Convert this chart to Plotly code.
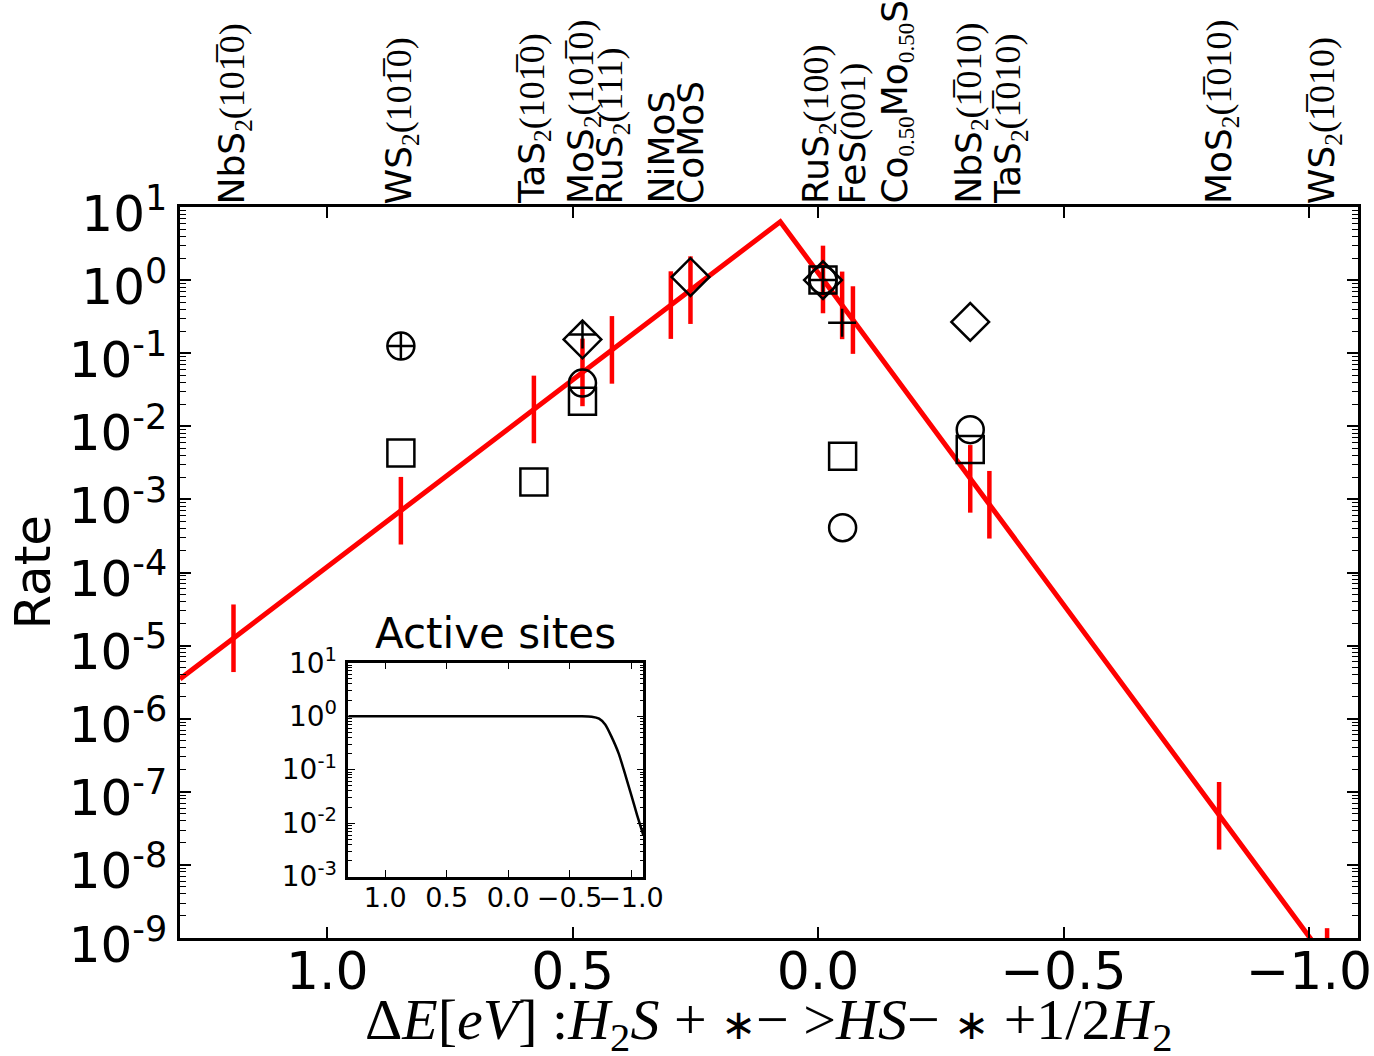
import plotly.graph_objects as go

# ---- volcano (rate model) ----
volcano_x = [1.30, 0.077, -1.10]
volcano_rate = [3.5e-6, 6.3, 1.3e-10]

# model rate at each surface (red bars, factor-of-~3 spread)
bar_x = [1.191, 0.850, 0.579, 0.480, 0.420, 0.300, 0.260,
         -0.010, -0.049, -0.071, -0.310, -0.349, -0.817, -1.037]
bar_rate = [1.26e-5, 7.0e-4, 1.70e-2, 5.46e-2, 0.111, 0.455, 0.729,
            1.02, 0.451, 0.284, 1.91e-3, 8.45e-4, 4.7e-8, 4.7e-10]
bar_factor = 2.9

# ---- measured rates (open symbols) ----
squares_x = [0.850, 0.579, 0.480, -0.010, -0.050, -0.310]
squares_rate = [4.3e-3, 1.73e-3, 2.2e-2, 1.0, 3.9e-3, 4.8e-3]

circles_x = [0.850, 0.480, -0.010, -0.050, -0.310]
circles_rate = [0.125, 0.039, 1.0, 4.1e-4, 9.0e-3]

diamonds_x = [0.480, 0.260, -0.010, -0.310]
diamonds_rate = [0.154, 1.10, 1.0, 0.268]

pluses_x = [0.850, 0.480, -0.010, -0.049]
pluses_rate = [0.125, 0.18, 1.0, 0.26]

# ---- inset: fraction of active sites ----
active_x = [1.30, 0.00, -0.60, -0.68, -0.74, -0.79, -0.84, -0.90, -0.95, -1.00, -1.05, -1.10]
active_frac = [1.0, 1.0, 1.0, 0.98, 0.90, 0.70, 0.42, 0.20, 0.085, 0.035, 0.014, 0.006]

# ---- axis ticks ----
x_ticks = [1.0, 0.5, 0.0, -0.5, -1.0]
x_ticktext = ["1.0", "0.5", "0.0", "\u22120.5", "\u22121.0"]
main_decades = list(range(-9, 2))
inset_decades = list(range(-3, 2))

# ---- surface labels along the top ----
SERIF = "Liberation Serif"


def serif(s, size=None):
    style = f"font-family:{SERIF}" + (f";font-size:{size}px" if size else "")
    return f"<span style=\"{style}\">{s}</span>"


OB = "1\u0305"  # 1 with overbar
sub2 = "<sub>" + serif("2") + "</sub>"
surf_x = [1.19, 0.85, 0.58, 0.48, 0.42, 0.32, 0.26, 0.00, -0.07, -0.16,
          -0.31, -0.39, -0.82, -1.03]
surf_text = [
    "NbS" + sub2 + serif("(10" + OB + "0)"),
    "WS" + sub2 + serif("(10" + OB + "0)"),
    "TaS" + sub2 + serif("(10" + OB + "0)"),
    "MoS" + sub2 + serif("(10" + OB + "0)"),
    "RuS" + sub2 + serif("(111)"),
    "NiMoS",
    "CoMoS",
    "RuS" + sub2 + serif("(100)"),
    "FeS" + serif("(001)"),
    "Co<sub>" + serif("0.50", 23) + "</sub>Mo<sub>" + serif("0.50", 23) + "</sub>S",
    "NbS" + sub2 + serif("(" + OB + "010)"),
    "TaS" + sub2 + serif("(" + OB + "010)"),
    "MoS" + sub2 + serif("(" + OB + "010)"),
    "WS" + sub2 + serif("(" + OB + "010)"),
]

SANS = "DejaVu Sans"
fig = go.Figure()

# volcano line
fig.add_trace(go.Scatter(x=volcano_x, y=volcano_rate, mode="lines",
                         line=dict(color="red", width=5), hoverinfo="skip"))
# red spread bars on the volcano
fig.add_trace(go.Scatter(
    x=bar_x, y=bar_rate, mode="markers",
    marker=dict(size=1, color="rgba(0,0,0,0)"),
    error_y=dict(type="data", symmetric=False,
                 array=[r * (bar_factor - 1) for r in bar_rate],
                 arrayminus=[r * (1 - 1 / bar_factor) for r in bar_rate],
                 color="red", thickness=4.5, width=0),
    hoverinfo="skip"))

mk_line = dict(color="black", width=2.5)
fig.add_trace(go.Scatter(x=squares_x, y=squares_rate, mode="markers",
                         marker=dict(symbol="square-open", size=27, color="black", line=mk_line)))
fig.add_trace(go.Scatter(x=circles_x, y=circles_rate, mode="markers",
                         marker=dict(symbol="circle-open", size=27, color="black", line=mk_line)))
fig.add_trace(go.Scatter(x=diamonds_x, y=diamonds_rate, mode="markers",
                         marker=dict(symbol="diamond-open", size=29, color="black", line=mk_line)))
fig.add_trace(go.Scatter(x=pluses_x, y=pluses_rate, mode="markers",
                         marker=dict(symbol="cross-thin-open", size=20, color="black", line=mk_line)))

# inset curve
fig.add_trace(go.Scatter(x=active_x, y=active_frac, mode="lines", xaxis="x2", yaxis="y2",
                         line=dict(color="black", width=2.5, shape="spline", smoothing=0.6)))


def minor_vals(decades):
    return [m * 10.0 ** k for k in decades[:-1] for m in range(2, 10)]


axis_common = dict(showline=True, linecolor="black", mirror="ticks", showgrid=False,
                   zeroline=False, ticks="inside", tickcolor="black", automargin=False)

fig.update_layout(
    width=1374, height=1056,
    margin=dict(l=180, r=16, t=207, b=118),
    paper_bgcolor="white", plot_bgcolor="white",
    showlegend=False,
    xaxis=dict(**axis_common, range=[1.3, -1.1], tickmode="array",
               tickvals=x_ticks, ticktext=x_ticktext, ticklen=11, tickwidth=1.5,
               linewidth=2.5, tickangle=0, ticklabelstandoff=-14,
               tickfont=dict(family=SANS, size=52, color="black")),
    yaxis=dict(**axis_common, type="log", range=[-9, 1], tickmode="array",
               tickvals=[10.0 ** k for k in main_decades],
               ticktext=[f"10<sup>{k}</sup>" for k in main_decades],
               ticklen=11, tickwidth=1.5, linewidth=2.5, ticklabelstandoff=0,
               ticklabelshift=6,
               minor=dict(tickmode="array", tickvals=minor_vals(main_decades),
                          ticks="inside", ticklen=6, tickcolor="black", tickwidth=1.2),
               tickfont=dict(family=SANS, size=50, color="black")),
    xaxis2=dict(**axis_common, domain=[0.1429, 0.3933], anchor="y2",
                range=[1.3, -1.1], tickmode="array", tickvals=x_ticks,
                ticktext=x_ticktext, ticklen=7, tickwidth=1.2, linewidth=2.5,
                tickangle=0, ticklabelstandoff=-5,
                tickfont=dict(family=SANS, size=27, color="black")),
    yaxis2=dict(**axis_common, domain=[0.0839, 0.3766], anchor="x2",
                type="log", range=[-3, 1], tickmode="array",
                tickvals=[10.0 ** k for k in inset_decades],
                ticktext=[f"10<sup>{k}</sup>" for k in inset_decades],
                ticklen=7, tickwidth=1.2, linewidth=2.5, ticklabelstandoff=3,
                ticklabelshift=0,
                minor=dict(tickmode="array", tickvals=minor_vals(inset_decades),
                           ticks="inside", ticklen=4, tickcolor="black", tickwidth=1),
                tickfont=dict(family=SANS, size=28, color="black")),
)

annotations = []
for xv, txt in zip(surf_x, surf_text):
    annotations.append(dict(x=xv, xref="x", y=1, yref="paper", xanchor="center",
                            yanchor="bottom", yshift=1, textangle=-90, showarrow=False,
                            text=txt, font=dict(family=SANS, size=36, color="black")))

annotations.append(dict(x=-0.1256, xref="paper", y=0.5, yref="paper", xanchor="center",
                        yanchor="middle", textangle=-90, showarrow=False, text="Rate",
                        font=dict(family=SANS, size=50, color="black")))
annotations.append(dict(x=0.5, xref="paper", y=-0.117, yref="paper", xanchor="center",
                        yanchor="middle", showarrow=False,
                        text="\u0394<i>E</i>[<i>eV</i>] :<i>H</i><sub>2</sub><i>S</i> + "
                             "<span style=\"font-size:42px\">\u2217</span>\u2212 >"
                             "<i>HS</i>\u2212 <span style=\"font-size:42px\">\u2217</span>"
                             " +1/2<i>H</i><sub>2</sub>",
                        font=dict(family=SERIF, size=58, color="black")))
annotations.append(dict(x=(0.1429 + 0.3933) / 2, xref="paper", y=0.4159, yref="paper",
                        xanchor="center", yanchor="middle", showarrow=False,
                        text="Active sites",
                        font=dict(family=SANS, size=42, color="black")))
fig.update_layout(annotations=annotations)

fig.write_html("out.html")
